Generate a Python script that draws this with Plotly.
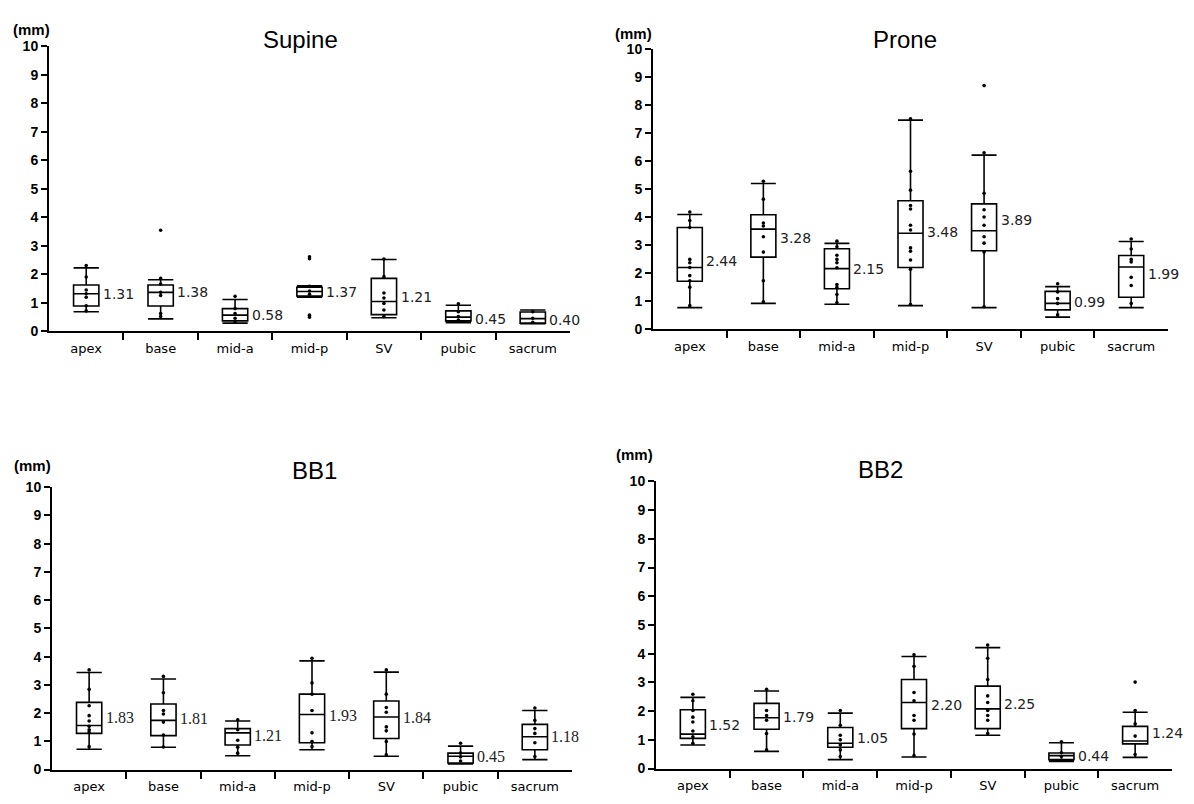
import plotly.graph_objects as go

categories = ["apex", "base", "mid-a", "mid-p", "SV", "pubic", "sacrum"]
y_ticks = list(range(0, 11))
panel_titles = ["Supine", "Prone", "BB1", "BB2"]

# ---- Supine ----
supine_lo = [0.69, 0.44, 0.29, 1.20, 0.48, 0.31, 0.27]
supine_q1 = [0.89, 0.89, 0.37, 1.24, 0.59, 0.37, 0.29]
supine_med = [1.32, 1.37, 0.57, 1.40, 1.05, 0.50, 0.45]
supine_q3 = [1.63, 1.63, 0.80, 1.55, 1.86, 0.72, 0.68]
supine_hi = [2.23, 1.81, 1.12, 1.60, 2.52, 0.92, 0.75]
supine_mean = [1.31, 1.38, 0.58, 1.37, 1.21, 0.45, 0.40]
supine_pts = [
    [2.31, 1.91, 1.45, 1.32, 1.20, 0.90, 0.72],
    [3.55, 1.86, 1.66, 1.37, 1.26, 0.63, 0.52],
    [1.23, 0.80, 0.63, 0.46, 0.34],
    [2.62, 2.55, 1.58, 1.42, 1.30, 0.57, 0.50],
    [2.54, 1.92, 1.35, 1.17, 0.98, 0.75, 0.52],
    [0.97, 0.69, 0.52, 0.40],
    [0.69, 0.46, 0.32],
]

# ---- Prone ----
prone_lo = [0.78, 0.93, 0.90, 0.85, 0.78, 0.44, 0.78]
prone_q1 = [1.72, 2.58, 1.45, 2.21, 2.81, 0.70, 1.15]
prone_med = [2.21, 3.58, 2.17, 3.43, 3.52, 0.93, 2.23]
prone_q3 = [3.64, 4.09, 2.88, 4.59, 4.48, 1.36, 2.64]
prone_hi = [4.10, 5.21, 3.07, 7.47, 6.22, 1.53, 3.14]
prone_mean = [2.44, 3.28, 2.15, 3.48, 3.89, 0.99, 1.99]
prone_pts = [
    [4.19, 3.89, 3.64, 2.50, 2.38, 2.21, 1.92, 1.74, 1.51, 0.85],
    [5.29, 4.65, 3.80, 3.69, 3.31, 2.76, 1.74, 0.99],
    [3.15, 2.95, 2.65, 2.50, 2.38, 2.20, 1.60, 1.50, 1.25, 0.95],
    [7.52, 5.64, 4.97, 4.42, 4.30, 3.72, 3.55, 2.91, 2.79, 2.48, 2.15, 0.89],
    [8.70, 6.30, 4.86, 4.27, 4.01, 3.72, 3.31, 3.08, 2.76, 0.81],
    [1.63, 1.34, 1.10, 0.93, 0.52],
    [3.23, 2.87, 2.50, 2.41, 1.86, 1.57, 0.93],
]

# ---- BB1 ----
bb1_lo = [0.72, 0.79, 0.49, 0.70, 0.47, 0.20, 0.35]
bb1_q1 = [1.28, 1.20, 0.87, 0.95, 1.10, 0.23, 0.70]
bb1_med = [1.56, 1.74, 1.30, 1.95, 1.86, 0.47, 1.16]
bb1_q3 = [2.38, 2.32, 1.45, 2.67, 2.43, 0.58, 1.60]
bb1_hi = [3.44, 3.21, 1.72, 3.85, 3.45, 0.83, 2.09]
bb1_mean = [1.83, 1.81, 1.21, 1.93, 1.84, 0.45, 1.18]
bb1_pts = [
    [3.53, 2.84, 2.26, 1.91, 1.72, 1.53, 1.41, 1.33, 0.81],
    [3.30, 2.72, 2.09, 1.97, 1.68, 1.22, 0.80],
    [1.76, 1.41, 1.04, 0.79, 0.58],
    [3.94, 3.07, 2.67, 2.09, 1.30, 0.99, 0.81],
    [3.53, 2.67, 2.20, 2.03, 1.51, 1.37, 0.99, 0.52],
    [0.93, 0.58, 0.45, 0.30],
    [2.18, 1.74, 1.45, 1.28, 0.95, 0.46],
]

# ---- BB2 ----
bb2_lo = [0.82, 0.60, 0.31, 0.40, 1.16, 0.25, 0.39]
bb2_q1 = [1.05, 1.37, 0.74, 1.39, 1.39, 0.31, 0.86]
bb2_med = [1.20, 1.77, 0.88, 2.30, 2.08, 0.45, 0.96]
bb2_q3 = [2.05, 2.27, 1.43, 3.10, 2.87, 0.54, 1.47]
bb2_hi = [2.48, 2.70, 1.93, 3.90, 4.21, 0.90, 1.96]
bb2_mean = [1.52, 1.79, 1.05, 2.20, 2.25, 0.44, 1.24]
bb2_pts = [
    [2.59, 2.36, 2.02, 1.79, 1.62, 1.31, 1.11, 0.88],
    [2.76, 2.02, 1.85, 1.68, 1.22, 0.65],
    [2.02, 1.51, 1.16, 1.00, 0.82, 0.65, 0.42],
    [3.96, 3.56, 2.65, 2.36, 1.85, 1.68, 1.20, 0.45],
    [4.30, 3.84, 3.10, 2.53, 2.30, 2.02, 1.85, 1.68, 1.22],
    [0.93, 0.55, 0.42, 0.30],
    [3.01, 2.02, 1.56, 1.13, 0.49],
]

panels = [
    (supine_lo, supine_q1, supine_med, supine_q3, supine_hi, supine_mean, supine_pts),
    (prone_lo, prone_q1, prone_med, prone_q3, prone_hi, prone_mean, prone_pts),
    (bb1_lo, bb1_q1, bb1_med, bb1_q3, bb1_hi, bb1_mean, bb1_pts),
    (bb2_lo, bb2_q1, bb2_med, bb2_q3, bb2_hi, bb2_mean, bb2_pts),
]

W, H = 1194, 804
# plot areas in pixels: (x_left, x_right, y_bottom(value 0), y_top(value 10))
areas = [
    (49, 570, 330, 39),
    (653, 1168, 328, 42),
    (52, 572, 777, 489),
    (656, 1172, 776, 483),
]
title_pos = [(300, 32), (905, 32), (314, 472), (880, 471)]
mm_pos = [(31, 22), (633, 26), (32, 467), (634, 456)]
label_fonts = [
    dict(family="DejaVu Sans", size=14, color="#222"),
    dict(family="DejaVu Sans", size=14, color="#222"),
    dict(family="Liberation Serif", size=16, color="#222"),
    dict(family="DejaVu Sans", size=14, color="#222"),
]

BOX_W = 0.34
fig = go.Figure()
annotations = []

for k, (lo, q1, med, q3, hi, mean, pts) in enumerate(panels):
    n = "" if k == 0 else str(k + 1)
    xa, ya = "x" + n, "y" + n
    idx = list(range(len(categories)))

    fig.add_trace(go.Box(
        x=idx, q1=q1, median=med, q3=q3, lowerfence=lo, upperfence=hi,
        width=BOX_W, whiskerwidth=1, boxpoints=False,
        fillcolor="white", line=dict(color="black", width=1.6),
        xaxis=xa, yaxis=ya, showlegend=False, hoverinfo="skip",
    ))

    px, py = [], []
    for i, vals in enumerate(pts):
        px += [i] * len(vals)
        py += vals
    fig.add_trace(go.Scatter(
        x=px, y=py, mode="markers",
        marker=dict(color="black", size=3.6),
        xaxis=xa, yaxis=ya, showlegend=False, hoverinfo="skip",
    ))

    for i, m in enumerate(mean):
        annotations.append(dict(
            x=i + BOX_W / 2, y=m, xref=xa, yref=ya, text=f"{m:.2f}",
            xanchor="left", yanchor="middle", xshift=2, showarrow=False,
            font=label_fonts[k],
        ))

    x0, x1, yb, yt = areas[k]
    axis_common = dict(showgrid=False, zeroline=False, showline=True,
                       linecolor="black", linewidth=2)
    fig.update_layout(**{
        "xaxis" + n: dict(
            axis_common, domain=[x0 / W, x1 / W], anchor=ya,
            range=[-0.5, len(categories) - 0.5],
            tickvals=idx, ticktext=categories, ticks="",
            ticklabelstandoff=4,
            tickfont=dict(family="DejaVu Sans", size=13, color="black"),
            minor=dict(tickvals=[i + 0.5 for i in idx[:-1]], ticks="outside",
                       ticklen=7, tickwidth=1.5, tickcolor="black", showgrid=False),
        ),
        "yaxis" + n: dict(
            axis_common, domain=[1 - yb / H, 1 - yt / H], anchor=xa,
            range=[0, 10], tickvals=y_ticks, ticks="outside",
            ticklen=6, tickwidth=1.5, tickcolor="black",
            tickfont=dict(family="Liberation Sans", size=14, color="black", weight="bold"),
        ),
    })

    tx, ty = title_pos[k]
    annotations.append(dict(
        x=tx / W, y=1 - ty / H, xref="paper", yref="paper", text=panel_titles[k],
        showarrow=False, xanchor="center", yanchor="middle",
        font=dict(family="Liberation Sans", size=24, color="black"),
    ))
    mx, my = mm_pos[k]
    annotations.append(dict(
        x=mx / W, y=1 - my / H, xref="paper", yref="paper", text="(mm)",
        showarrow=False, xanchor="center", yanchor="middle",
        font=dict(family="Liberation Sans", size=15, color="black", weight="bold"),
    ))

fig.update_layout(
    width=W, height=H, margin=dict(l=0, r=0, t=0, b=0),
    paper_bgcolor="white", plot_bgcolor="white",
    annotations=annotations,
)

fig.write_html("out.html")
